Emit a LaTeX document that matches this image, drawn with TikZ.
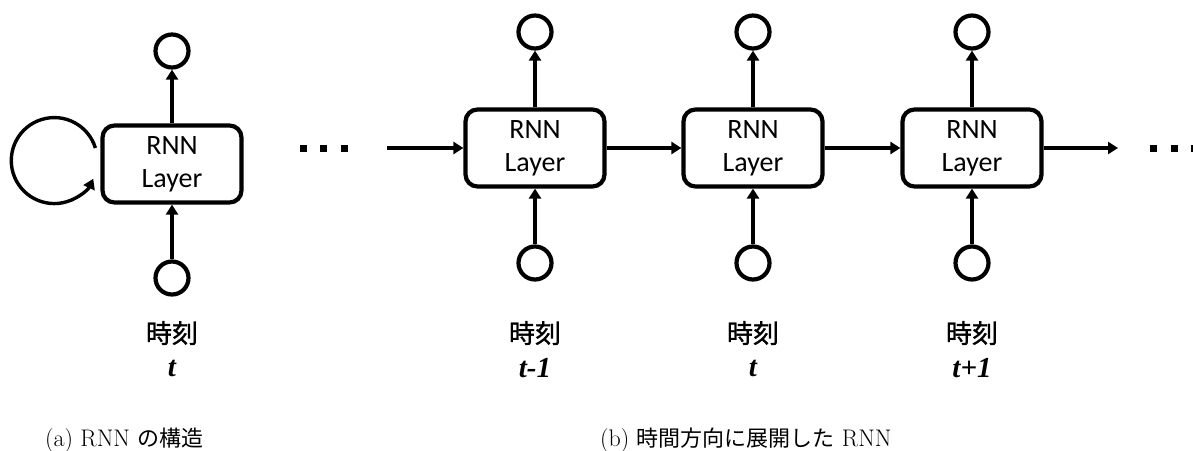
\documentclass[tikz,border=0pt]{standalone}
\usepackage{fontspec}
\newfontfamily\cjk{Noto Sans CJK JP}
\newfontfamily\cjkmid{Noto Sans CJK JP}[FakeBold=1.2]
\newfontfamily\blockfont{Carlito}
\newfontfamily\timefont{Liberation Serif}
\newcommand\jcaptfont{\cjk\fontsize{22}{26}\selectfont}
\usetikzlibrary{arrows.meta}

\begin{document}
\begin{tikzpicture}[x=1pt,y=-1pt,
  rnnbox/.style={draw, line width=4.2pt, rounded corners=12pt,
    minimum width=139pt, minimum height=77pt, inner sep=0pt, align=center,
    font=\blockfont\fontsize{28}{33}\selectfont},
  cell/.style={draw, circle, line width=4.2pt, minimum size=33pt, inner sep=0pt},
  arr/.style={line width=3.4pt, -{Triangle[length=10pt,width=12pt]}},
  jlabel/.style={font=\cjkmid\fontsize{26}{30}\selectfont},
  tlabel/.style={font=\timefont\bfseries\itshape\fontsize{29}{32}\selectfont},
  capt/.style={anchor=base west, inner sep=0pt, font=\fontsize{24}{26}\selectfont},
  dotsq/.style={fill, minimum size=7pt, inner sep=0pt}
]
\useasboundingbox (0,0) rectangle (1193,450);
\clip (0,0) rectangle (1193,450);

% ---- (a) folded RNN ----
\node[rnnbox] (A) at (172,164) {RNN\\Layer};
\node[cell] (Aout) at (172,51) {};
\node[cell] (Ain) at (172,278) {};
\draw[arr] (Ain) -- (A);
\draw[arr] (A) -- (Aout);
\draw[arr] ([xshift=-5pt,yshift=16pt]A.west) arc[start angle=17, end angle=335, radius=43pt];
\node[jlabel] (Aj) at (172,333) {時刻};
\node[tlabel] (At) at (172,368) {t};

\node[dotsq] (ld1) at (303,148.5) {};
\node[dotsq] (ld2) at (323.5,148.5) {};
\node[dotsq] (ld3) at (344,148.5) {};

% ---- (b) unrolled over time ----
\foreach \i/\x/\lab in {1/535/t-1, 2/753/t, 3/972/t+1}{
  \node[rnnbox] (B\i) at (\x,148) {RNN\\Layer};
  \node[cell] (B\i out) at (\x,32) {};
  \node[cell] (B\i in) at (\x,263) {};
  \draw[arr] (B\i in) -- (B\i);
  \draw[arr] (B\i) -- (B\i out);
  \node[jlabel] (B\i j) at (\x,333) {時刻};
  \node[tlabel] (B\i t) at (\x,368) {\lab};
}
\coordinate (hin) at (387,148);
\coordinate (hout) at (1118,148);
\draw[arr] (hin) -- (B1.west);
\draw[arr] (B1) -- (B2);
\draw[arr] (B2) -- (B3);
\draw[arr] (B3) -- (hout);

\node[dotsq] (rd1) at (1153.5,148.5) {};
\node[dotsq] (rd2) at (1174,148.5) {};
\node[dotsq] (rd3) at (1194.5,148.5) {};

% ---- captions ----
\node[capt] (capa) at (45,446) {(a) RNN {\jcaptfont の構造}};
\node[capt] (capb) at (600,446) {(b) {\jcaptfont 時間方向に展開した} RNN};
\end{tikzpicture}
\end{document}
